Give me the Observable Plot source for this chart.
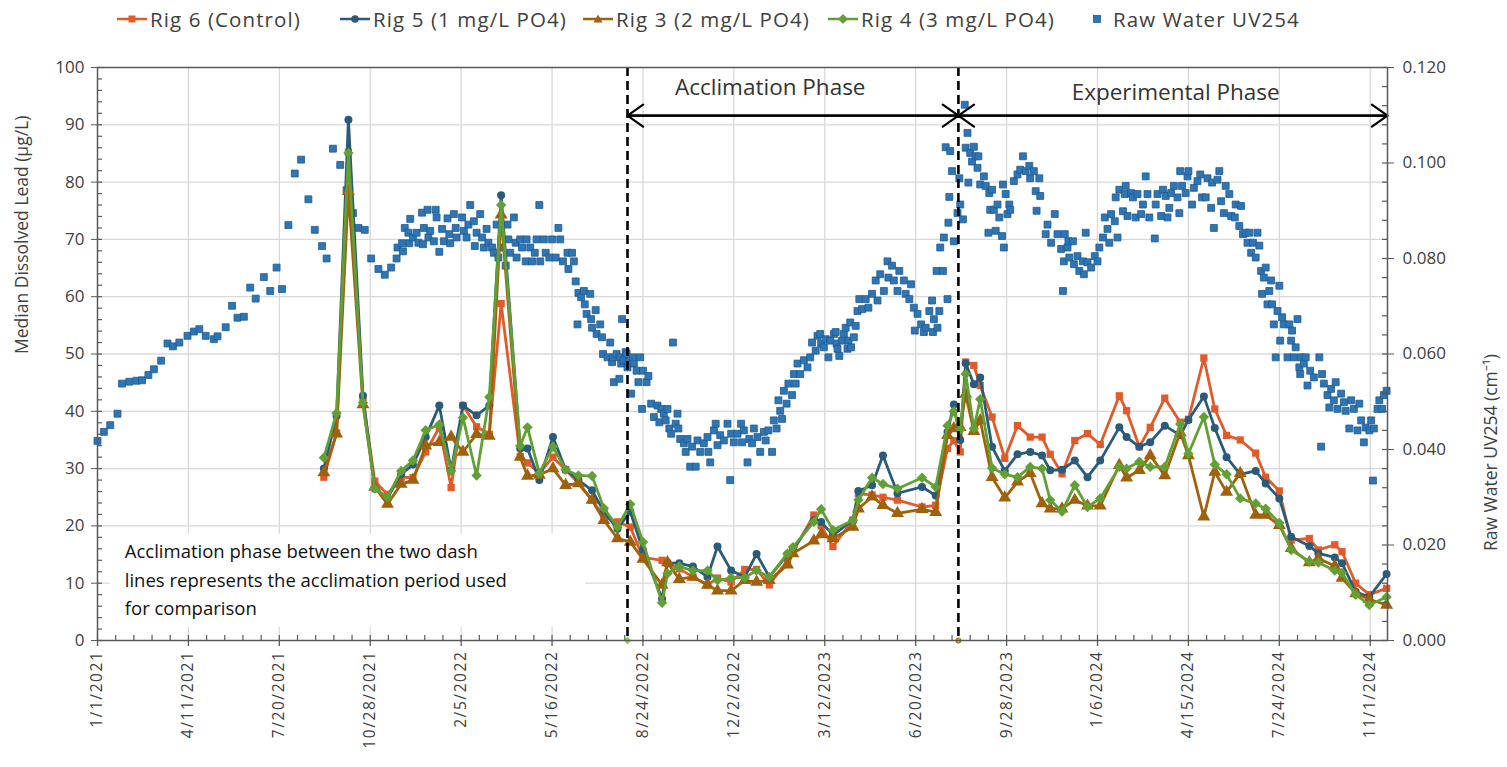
<!DOCTYPE html>
<html>
<head>
<meta charset="utf-8">
<script src="https://cdn.jsdelivr.net/npm/d3@7"></script>
<script src="https://cdn.jsdelivr.net/npm/@observablehq/plot@0.6"></script>
<style>
  body { margin: 0; background: #fff; font-family: "Open Sans", sans-serif; }
  #legend { position: relative; width: 1507px; height: 38px; }
  .item { position: absolute; top: 4px; height: 30px; display: flex; align-items: center; font-size: 20.5px; letter-spacing: 1.1px; color: #404040; white-space: nowrap; }
  .item svg { margin-right: 3px; }
  g[aria-label="x-axis tick label"] text { letter-spacing: 1.6px; }
</style>
</head>
<body>
<div id="legend"></div>
<div id="chart"></div>
<script>
// ---------- DATA ----------
const rigDates = ["2021-09-07","2021-09-21","2021-10-04","2021-10-20","2021-11-02","2021-11-16","2021-12-01","2021-12-14","2021-12-28","2022-01-12",
"2022-01-25","2022-02-07","2022-02-22","2022-03-08","2022-03-21","2022-04-11","2022-04-19","2022-05-02","2022-05-17","2022-05-31",
"2022-06-14","2022-06-29","2022-07-12","2022-07-27","2022-08-10","2022-08-24","2022-09-14","2022-09-20","2022-10-03","2022-10-18",
"2022-11-03","2022-11-14","2022-11-29","2022-12-14","2022-12-27","2023-01-10","2023-01-30","2023-02-05","2023-02-28","2023-03-08",
"2023-03-21","2023-04-12","2023-04-18","2023-05-03","2023-05-15","2023-05-31","2023-06-27","2023-07-12","2023-07-25","2023-08-01",
"2023-08-08","2023-08-14","2023-08-23","2023-08-30","2023-09-12","2023-09-26","2023-10-10","2023-10-24","2023-11-06","2023-11-15",
"2023-11-28","2023-12-12","2023-12-26","2024-01-09","2024-01-30","2024-02-07","2024-02-21","2024-03-04","2024-03-20","2024-04-06",
"2024-04-15","2024-05-02","2024-05-14","2024-05-27","2024-06-11","2024-06-28","2024-07-09","2024-07-24","2024-08-06","2024-08-26",
"2024-09-05","2024-09-23","2024-10-01","2024-10-16","2024-10-31","2024-11-19"];

const rig6 = [28.5,36.2,85.2,42.2,27.8,25.5,28.5,28.4,32.9,37.2, 26.7,41,37.3,36,58.8,32.1,31,29.2,32,29.8,
27.5,24.5,21.6,20.7,19.8,14.5,14,13.5,12.5,11.1, 9.7,10.9,10.2,12.4,12.4,9.7,14,15.5,21.9,20,
16.4,21,25.6,25.4,25,24.5,23.3,23.6,33.5,34.9, 32.9,48.6,48,44.5,39,31.8,37.5,35.5,35.5,32.5,
29.1,34.9,36.1,34.2,42.7,40.1,33.8,37.2,42.3,38.1, 38.6,49.3,40.4,35.8,35,32.7,28.5,26.1,17.5,17.8,
15.8,16.7,15.5,10,8,9.1];
const rig5 = [30,39.2,90.9,42.7,26.5,24.9,29,30.7,35.5,41, 29.7,41,39.3,41,77.7,33.5,33.5,28,35.5,29.8,
28,26.2,22.5,19.5,22.5,15.8,7.3,13.5,13.5,12.9, 11.1,16.4,12.2,11.1,15.1,11.1,15,16,21,20.7,
18.4,21,26.1,27.1,32.3,25.7,26.8,25.3,36.4,41.2, 35,48.4,44.7,45.9,33.8,29.6,32.5,32.9,32.3,29.7,
29.8,31.4,28.5,31.4,37.2,35.5,33.8,34.6,37.5,35.8, 38.5,42.6,37.1,32,29,29.6,27.4,24.8,18.1,16.5,
15.2,14.5,13.5,8.5,7.6,11.6];
const rig3 = [29.3,36.1,78.4,41.2,26.8,23.8,27.3,28,34,34.6, 35.5,32.9,36,35.7,74.3,32,28.7,28.9,30,27.1,
27.4,24.5,21,17.8,17.2,14.2,9.7,13.6,10.7,11.1, 9.7,8.7,8.7,10.5,10.2,10.5,13.2,15.2,17.4,18.5,
17.8,19.8,23,25.1,23.6,22.2,22.9,22.4,35.8,37, 37.2,43,36.5,38.4,28.5,24.9,27.7,29.2,23.9,23,
23,24.5,23.5,23.5,30.6,28.4,29.7,32.3,28.8,36.3, 32.3,21.6,29.4,25.9,29.2,21.9,21.9,20.1,16.1,13.6,
14.3,13,10.9,8.2,7.2,6.2];
const rig4 = [31.9,39.7,85.1,41.5,26.5,25,29.6,31.4,36.7,37.7, 29.6,38.9,28.8,42.5,76,34,37.2,29.2,33.8,29.8,
28.8,28.7,23.1,19.8,23.8,17.2,6.6,11.7,12.9,12.2, 12.2,10.5,10.9,11,12.2,11.1,15.2,16.3,20.7,22.9,
19.3,21,24.5,28.4,27.3,26.5,28.4,26.8,37.5,40, 36.8,46.5,37,42.1,30.1,29,28.5,30.3,30,24.5,
22.5,27.1,23.3,24.8,30.3,30,31.2,30.3,30.3,37.8, 32.6,39,30.7,29,24.8,23.9,23,20.5,15.8,13.8,
13.6,12.2,11.8,8,6.2,7.6];

// Raw water UV254 (cm-1): [date, value]
const uv2021 = [["2021-01-01",0.0418],["2021-01-08",0.0437],["2021-01-15",0.0451],["2021-01-23",0.0475],["2021-01-28",0.0538],
["2021-02-05",0.0542],["2021-02-13",0.0544],["2021-02-19",0.0545],["2021-02-26",0.0556],["2021-03-04",0.0568],["2021-03-12",0.0586],
["2021-03-19",0.0622],["2021-03-25",0.0616],["2021-04-01",0.0624],["2021-04-10",0.0638],["2021-04-17",0.0647],["2021-04-23",0.0652],
["2021-04-30",0.0638],["2021-05-09",0.0631],["2021-05-13",0.0637],["2021-05-22",0.0656],["2021-05-29",0.0701],["2021-06-04",0.0676],
["2021-06-11",0.0678],["2021-06-18",0.0739],["2021-06-24",0.0716],["2021-07-03",0.0761],["2021-07-10",0.0732],["2021-07-17",0.0781],
["2021-07-23",0.0736],["2021-07-30",0.0870],["2021-08-06",0.0978],["2021-08-13",0.1007],["2021-08-21",0.0924],["2021-08-28",0.0860],
["2021-09-05",0.0826],["2021-09-10",0.0800],["2021-09-17",0.1030],["2021-09-25",0.0996],["2021-10-02",0.0943],["2021-10-09",0.0895],
["2021-10-15",0.0864],["2021-10-22",0.0860],["2021-10-29",0.0800],["2021-11-06",0.0778],["2021-11-13",0.0766],["2021-11-20",0.0781],
["2021-11-26",0.0800],["2021-11-27",0.0823],["2021-12-02",0.0832],["2021-12-03",0.0815],["2021-12-05",0.0864],["2021-12-09",0.0854],
["2021-12-10",0.0832],["2021-12-11",0.0883],["2021-12-14",0.0844],["2021-12-18",0.0854],["2021-12-20",0.0833],["2021-12-24",0.0896],
["2021-12-25",0.0830],["2021-12-26",0.0864],["2021-12-30",0.0902],["2021-12-31",0.0844]];
const uv2022 = [["2022-01-02",0.0858],["2022-01-06",0.0836],["2022-01-08",0.0902],["2022-01-09",0.0886],["2022-01-12",0.0814],
["2022-01-15",0.0862],["2022-01-17",0.0836],["2022-01-21",0.0884],["2022-01-23",0.0851],["2022-01-24",0.0832],["2022-01-28",0.0893],
["2022-01-30",0.0864],["2022-01-31",0.0844],["2022-02-06",0.0886],["2022-02-08",0.0858],["2022-02-11",0.0844],["2022-02-13",0.0871],
["2022-02-15",0.0912],["2022-02-19",0.0878],["2022-02-20",0.0826],["2022-02-22",0.0854],["2022-02-26",0.0893],["2022-02-28",0.0844],
["2022-03-02",0.0823],["2022-03-05",0.0862],["2022-03-07",0.0833],["2022-03-11",0.0823],["2022-03-13",0.0812],["2022-03-16",0.0871],
["2022-03-18",0.0802],["2022-03-22",0.0823],["2022-03-26",0.0785],["2022-03-28",0.0871],["2022-03-29",0.0840],["2022-03-31",0.0812],
["2022-04-04",0.0886],["2022-04-06",0.0833],["2022-04-07",0.0802],["2022-04-11",0.0840],["2022-04-13",0.0823],["2022-04-17",0.0794],
["2022-04-18",0.0840],["2022-04-22",0.0823],["2022-04-24",0.0794],["2022-04-27",0.0812],["2022-04-29",0.0840],["2022-05-02",0.0912],
["2022-05-03",0.0794],["2022-05-07",0.0840],["2022-05-09",0.0812],["2022-05-13",0.0802],["2022-05-16",0.0840],["2022-05-20",0.0802],
["2022-05-23",0.0864],["2022-05-25",0.0840],["2022-05-28",0.0794],["2022-06-02",0.0812],["2022-06-03",0.0778],["2022-06-07",0.0812],
["2022-06-09",0.0794],["2022-06-11",0.0752],["2022-06-13",0.0662],["2022-06-14",0.0728],["2022-06-17",0.0719],["2022-06-20",0.0732],
["2022-06-21",0.0704],["2022-06-23",0.0684],["2022-06-27",0.0726],["2022-06-28",0.0673],["2022-06-29",0.0655],["2022-07-03",0.0692],
["2022-07-04",0.0642],["2022-07-08",0.0662],["2022-07-10",0.0635],["2022-07-11",0.0600],["2022-07-16",0.0593],["2022-07-19",0.0624],
["2022-07-21",0.0583],["2022-07-22",0.0593],["2022-07-23",0.0541],["2022-07-26",0.0600],["2022-07-29",0.0548],["2022-07-30",0.0593],
["2022-07-31",0.0580],["2022-08-01",0.0673],["2022-08-03",0.0587],["2022-08-05",0.0604],["2022-08-06",0.0600],["2022-08-07",0.0572],
["2022-08-08",0.0583],["2022-08-11",0.0517],["2022-08-13",0.0593],["2022-08-14",0.0580],["2022-08-17",0.0565],["2022-08-19",0.0541],
["2022-08-21",0.0593],["2022-08-23",0.0485],["2022-08-24",0.0565],["2022-08-28",0.0541],["2022-08-30",0.0554],["2022-09-02",0.0496],
["2022-09-05",0.0468],["2022-09-09",0.0492],["2022-09-11",0.0457],["2022-09-13",0.0485],["2022-09-16",0.0475],["2022-09-18",0.0461],
["2022-09-20",0.0485],["2022-09-22",0.0444],["2022-09-24",0.0433],["2022-09-26",0.0624],["2022-09-29",0.0454],["2022-10-01",0.0475],
["2022-10-02",0.0444],["2022-10-04",0.0422],["2022-10-08",0.0413],["2022-10-10",0.0395],["2022-10-12",0.0422],["2022-10-15",0.0364],
["2022-10-17",0.0406],["2022-10-21",0.0364],["2022-10-23",0.0419],["2022-10-26",0.0395],["2022-10-30",0.0413],["2022-11-03",0.0426],
["2022-11-04",0.0395],["2022-11-06",0.0373],["2022-11-10",0.0440],["2022-11-12",0.0454],["2022-11-14",0.0409],["2022-11-17",0.0430],
["2022-11-21",0.0419],["2022-11-25",0.0454],["2022-11-28",0.0336],["2022-11-29",0.0433],["2022-12-02",0.0415],["2022-12-06",0.0433],
["2022-12-10",0.0454],["2022-12-11",0.0415],["2022-12-13",0.0440],["2022-12-17",0.0373],["2022-12-19",0.0422],["2022-12-22",0.0413],
["2022-12-24",0.0444],["2022-12-28",0.0426],["2022-12-31",0.0395]];
const uv2023 = [["2023-01-04",0.0437],["2023-01-06",0.0419],["2023-01-09",0.0440],["2023-01-13",0.0395],["2023-01-15",0.0461],
["2023-01-18",0.0444],["2023-01-20",0.0503],["2023-01-22",0.0481],["2023-01-24",0.0464],["2023-01-26",0.0523],["2023-01-29",0.0496],
["2023-01-31",0.0538],["2023-02-04",0.0514],["2023-02-06",0.0558],["2023-02-08",0.0538],["2023-02-10",0.0580],["2023-02-13",0.0558],
["2023-02-17",0.0587],["2023-02-21",0.0572],["2023-02-24",0.0593],["2023-02-26",0.0624],["2023-03-02",0.0607],["2023-03-04",0.0638],
["2023-03-07",0.0642],["2023-03-08",0.0622],["2023-03-11",0.0614],["2023-03-13",0.0631],["2023-03-16",0.0593],["2023-03-18",0.0628],
["2023-03-22",0.0642],["2023-03-24",0.0646],["2023-03-25",0.0622],["2023-03-26",0.0611],["2023-03-28",0.0596],["2023-03-31",0.0628],
["2023-04-02",0.0642],["2023-04-04",0.0655],["2023-04-06",0.0611],["2023-04-07",0.0628],["2023-04-09",0.0666],["2023-04-10",0.0614],
["2023-04-13",0.0635],["2023-04-15",0.0659],["2023-04-17",0.0690],["2023-04-19",0.0715],["2023-04-22",0.0694],["2023-04-26",0.0715],
["2023-04-29",0.0697],["2023-05-03",0.0726],["2023-05-07",0.0754],["2023-05-09",0.0712],["2023-05-12",0.0767],["2023-05-16",0.0732],
["2023-05-20",0.0794],["2023-05-21",0.0760],["2023-05-25",0.0785],["2023-05-27",0.0754],["2023-05-31",0.0732],["2023-06-02",0.0774],
["2023-06-07",0.0754],["2023-06-09",0.0726],["2023-06-13",0.0715],["2023-06-15",0.0746],["2023-06-18",0.0697],["2023-06-19",0.0649],
["2023-06-22",0.0684],["2023-06-26",0.0662],["2023-06-29",0.0646],["2023-07-01",0.0655],["2023-07-05",0.0690],["2023-07-08",0.0712],
["2023-07-09",0.0646],["2023-07-10",0.0673],["2023-07-13",0.0774],["2023-07-14",0.0655],["2023-07-16",0.0690],["2023-07-17",0.0823],
["2023-07-20",0.0774],["2023-07-21",0.0844],["2023-07-23",0.1033],["2023-07-25",0.0715],["2023-07-26",0.0875],["2023-07-27",0.0929],
["2023-07-28",0.1025],["2023-07-30",0.0983],["2023-08-01",0.0836],["2023-08-05",0.0895],["2023-08-07",0.0968],["2023-08-08",0.0913],
["2023-08-11",0.0882],["2023-08-13",0.1122],["2023-08-14",0.1032],["2023-08-16",0.1063],["2023-08-17",0.0959],["2023-08-19",0.1021],
["2023-08-21",0.1003],["2023-08-23",0.1034],["2023-08-25",0.1014],["2023-08-27",0.0990],["2023-08-28",0.1014],["2023-08-30",0.0955],
["2023-09-03",0.0972],["2023-09-05",0.0952],["2023-09-08",0.0854],["2023-09-09",0.0937],["2023-09-10",0.0902],["2023-09-12",0.0944],
["2023-09-14",0.0902],["2023-09-16",0.0858],["2023-09-18",0.0913],["2023-09-20",0.0886],["2023-09-23",0.0847],["2023-09-24",0.0955],
["2023-09-25",0.0823],["2023-09-27",0.0935],["2023-09-29",0.0893],["2023-10-01",0.0913],["2023-10-02",0.0902],["2023-10-06",0.0962],
["2023-10-10",0.0976],["2023-10-13",0.0986],["2023-10-16",0.1014],["2023-10-19",0.0983],["2023-10-23",0.0994],["2023-10-24",0.0968],
["2023-10-28",0.0983],["2023-10-30",0.0941],["2023-10-31",0.0900],["2023-11-03",0.0968],["2023-11-04",0.0931],["2023-11-10",0.0851],
["2023-11-12",0.0871],["2023-11-16",0.0833],["2023-11-20",0.0893],["2023-11-23",0.0851],["2023-11-27",0.0820],["2023-11-29",0.0732],
["2023-11-30",0.0794],["2023-12-01",0.0851],["2023-12-04",0.0823],["2023-12-05",0.0836],["2023-12-06",0.0802],["2023-12-10",0.0836],
["2023-12-11",0.0788],["2023-12-15",0.0805],["2023-12-17",0.0774],["2023-12-21",0.0794],["2023-12-22",0.0767],["2023-12-24",0.0854],
["2023-12-26",0.0792],["2023-12-30",0.0781]];
const uv2024 = [["2024-01-03",0.0805],["2024-01-06",0.0794],["2024-01-08",0.0823],["2024-01-12",0.0844],["2024-01-14",0.0886],
["2024-01-17",0.0862],["2024-01-19",0.0833],["2024-01-21",0.0893],["2024-01-25",0.0878],["2024-01-26",0.0928],["2024-01-28",0.0844],
["2024-01-30",0.0944],["2024-02-03",0.0899],["2024-02-05",0.0935],["2024-02-06",0.0952],["2024-02-08",0.0889],["2024-02-12",0.0937],
["2024-02-14",0.0928],["2024-02-17",0.0886],["2024-02-19",0.0935],["2024-02-23",0.0893],["2024-02-25",0.0913],["2024-02-28",0.0972],
["2024-03-01",0.0935],["2024-03-03",0.0886],["2024-03-09",0.0842],["2024-03-10",0.0913],["2024-03-12",0.0935],["2024-03-16",0.0889],
["2024-03-18",0.0944],["2024-03-21",0.0931],["2024-03-23",0.0886],["2024-03-25",0.0906],["2024-03-27",0.0937],["2024-03-30",0.0952],
["2024-04-03",0.0928],["2024-04-05",0.0895],["2024-04-06",0.0983],["2024-04-08",0.0952],["2024-04-12",0.0937],["2024-04-14",0.0972],
["2024-04-15",0.0983],["2024-04-19",0.0913],["2024-04-21",0.0948],["2024-04-25",0.0962],["2024-04-28",0.0976],["2024-04-30",0.0928],
["2024-05-04",0.0928],["2024-05-06",0.0968],["2024-05-10",0.0906],["2024-05-11",0.0959],["2024-05-13",0.0864],["2024-05-17",0.0965],
["2024-05-19",0.0983],["2024-05-21",0.0920],["2024-05-24",0.0895],["2024-05-26",0.0952],["2024-05-30",0.0935],["2024-06-01",0.0889],
["2024-06-05",0.0886],["2024-06-06",0.0913],["2024-06-10",0.0868],["2024-06-12",0.0910],["2024-06-14",0.0851],["2024-06-17",0.0854],
["2024-06-19",0.0833],["2024-06-21",0.0854],["2024-06-23",0.0812],["2024-06-25",0.0833],["2024-06-28",0.0802],["2024-06-30",0.0854],
["2024-07-02",0.0827],["2024-07-04",0.0774],["2024-07-05",0.0726],["2024-07-07",0.0760],["2024-07-09",0.0781],["2024-07-11",0.0704],
["2024-07-13",0.0732],["2024-07-15",0.0754],["2024-07-16",0.0704],["2024-07-18",0.0662],["2024-07-20",0.0593],["2024-07-22",0.0690],
["2024-07-24",0.0743],["2024-07-25",0.0628],["2024-07-27",0.0677],["2024-07-29",0.0662],["2024-08-02",0.0593],["2024-08-04",0.0662],
["2024-08-06",0.0628],["2024-08-07",0.0649],["2024-08-09",0.0593],["2024-08-11",0.0614],["2024-08-13",0.0673],["2024-08-15",0.0572],
["2024-08-16",0.0558],["2024-08-17",0.0593],["2024-08-20",0.0580],["2024-08-22",0.0593],["2024-08-24",0.0534],["2024-08-27",0.0565],
["2024-08-31",0.0551],["2024-09-06",0.0593],["2024-09-08",0.0406],["2024-09-09",0.0558],["2024-09-11",0.0538],["2024-09-15",0.0514],
["2024-09-17",0.0488],["2024-09-19",0.0527],["2024-09-22",0.0503],["2024-09-24",0.0541],["2024-09-26",0.0485],["2024-09-30",0.0517],
["2024-10-03",0.0499],["2024-10-05",0.0481],["2024-10-09",0.0444],["2024-10-11",0.0503],["2024-10-14",0.0485],["2024-10-18",0.0440],
["2024-10-20",0.0496],["2024-10-22",0.0461],["2024-10-25",0.0415],["2024-10-27",0.0446],["2024-10-31",0.0440],["2024-11-02",0.0461],
["2024-11-04",0.0335],["2024-11-05",0.0444],["2024-11-09",0.0485],["2024-11-11",0.0503],["2024-11-14",0.0485],["2024-11-16",0.0514],
["2024-11-19",0.0523]];

const xTickLabels = ["1/1/2021","4/11/2021","7/20/2021","10/28/2021","2/5/2022","5/16/2022","8/24/2022","12/2/2022",
  "3/12/2023","6/20/2023","9/28/2023","1/6/2024","4/15/2024","7/24/2024","11/1/2024"];
const leftTicks = [0,10,20,30,40,50,60,70,80,90,100];
const rightTicks = [0,0.02,0.04,0.06,0.08,0.10,0.12];
const leftMax = 100, rightMax = 0.12;
const xStart = "2021-01-01", xEnd = "2024-11-20";

const phaseDates = ["2022-08-07","2023-08-06"];
const phaseEnds = ["2022-08-07","2023-08-06","2024-11-20"];
const phaseLabels = ["Acclimation Phase","Experimental Phase"];
const phaseLabelDates = ["2023-01-11","2024-04-01"];
const phaseLabelY = [96.4, 95.6];
const noteLines = ["Acclimation phase between the two dash","lines represents the acclimation period used","for comparison"];
const noteY = [15.4, 10.4, 5.4];

// ---------- SETUP ----------
const parse = s => new Date(s + "T00:00:00Z");
const parseMDY = s => { const [m,d,y] = s.split("/").map(Number); return new Date(Date.UTC(y, m-1, d)); };
const k = rightMax / leftMax; // UV units per left-axis unit
const x0 = parse(xStart), x1 = parse(xEnd);

const series = [
  {name:"Rig 6 (Control)", values: rig6, color:"#E35A2A", symbol:"square", r:4.1},
  {name:"Rig 5 (1 mg/L PO4)", values: rig5, color:"#2A5B7A", symbol:"circle", r:4.0},
  {name:"Rig 3 (2 mg/L PO4)", values: rig3, color:"#A0600C", symbol:"triangle", r:4.8},
  {name:"Rig 4 (3 mg/L PO4)", values: rig4, color:"#62A036", symbol:"diamond2", r:4.7}
];
const rows = s => rigDates.map((d,i) => ({date: parse(d), value: s.values[i]}));
const uvRows = [...uv2021, ...uv2022, ...uv2023, ...uv2024].map(([d,v]) => ({date: parse(d), uv: v}));
const UVFILL = "#2E75B6", UVSTROKE = "#1F5A8E";

// ---------- LEGEND ----------
const legend = document.getElementById("legend");
const legendLeft = [117, 340, 583, 828, 1087];
series.forEach((s, i) => {
  const el = document.createElement("div");
  el.className = "item"; el.style.left = legendLeft[i] + "px";
  let mk = "";
  if (s.symbol === "square") mk = `<rect x="11.5" y="6.5" width="7" height="7" fill="${s.color}"/>`;
  if (s.symbol === "circle") mk = `<circle cx="15" cy="10" r="3.8" fill="${s.color}"/>`;
  if (s.symbol === "triangle") mk = `<path d="M15,5.5L19.5,13.5L10.5,13.5Z" fill="${s.color}"/>`;
  if (s.symbol === "diamond2") mk = `<path d="M15,5L20,10L15,15L10,10Z" fill="${s.color}"/>`;
  el.innerHTML = `<svg width="30" height="20"><line x1="0" y1="10" x2="30" y2="10" stroke="${s.color}" stroke-width="2.5"/>${mk}</svg><span>${s.name}</span>`;
  legend.appendChild(el);
});
{
  const el = document.createElement("div");
  el.className = "item"; el.style.left = legendLeft[4] + "px";
  el.innerHTML = `<svg width="20" height="20" style="margin-right:6px"><rect x="6.5" y="6.5" width="7" height="7" fill="${UVFILL}" stroke="${UVSTROKE}" stroke-width="0.8"/></svg><span>Raw Water UV254</span>`;
  legend.appendChild(el);
}

// ---------- CHART ----------
const W = 1507, H = 729;
const mTop = 29, mBottom = 127, mLeft = 97, mRight = 120;
const plotH = H - mTop - mBottom, plotW = W - mLeft - mRight;

const xMajor = xTickLabels.map(parseMDY);
const xMinor = d3.range(0, Math.round((x1 - x0) / 864e5) + 1, 20).map(n => d3.utcDay.offset(x0, n));
const leftMinor = d3.range(0, 100.01, 2);
const rightMinor = d3.range(0, rightMax + 1e-9, 0.004).map(v => v / k);
const fmtDate = d => `${d.getUTCMonth()+1}/${d.getUTCDate()}/${d.getUTCFullYear()}`;
const AX = "#595959";

const marks = [
  Plot.ruleY(leftTicks.filter(t => t > 0 && t < 100), {stroke: "#d9d9d9", strokeWidth: 1.3}),
  Plot.ruleX(xMajor.slice(1), {stroke: "#d9d9d9", strokeWidth: 1.3}),
  Plot.rect([0], {x1: () => parse("2021-01-15"), x2: () => parse("2022-06-22"), y1: 2.3, y2: 18.6, fill: "white"}),
  Plot.dot(uvRows, {x: "date", y: d => d.uv / k, symbol: "square", r: 3.9, fill: UVFILL, stroke: UVSTROKE, strokeWidth: 0.8})
];
series.forEach(s => {
  const data = rows(s);
  marks.push(Plot.line(data, {x: "date", y: "value", stroke: s.color, strokeWidth: 2.8}));
  marks.push(Plot.dot(data, {x: "date", y: "value", symbol: s.symbol, r: s.r, fill: s.color, stroke: null}));
});
marks.push(
  Plot.ruleX(phaseDates.map(parse), {stroke: "black", strokeWidth: 2.6, strokeDasharray: "9,5"}),
  Plot.dot([phaseDates[0]], {x: d => parse(d), y: 0, symbol: "diamond2", r: 3.5, fill: "#92D050"}),
  Plot.dot([phaseDates[1]], {x: d => parse(d), y: 0, symbol: "circle", r: 2.6, fill: "#F0A030", stroke: "#7F5000", strokeWidth: 0.8}),
  Plot.arrow([0,1], {x1: i => parse(phaseEnds[i]), x2: i => parse(phaseEnds[i+1]), y1: 91.6, y2: 91.6, stroke: "black", strokeWidth: 2.2, headLength: 13, headAngle: 70}),
  Plot.arrow([0,1], {x1: i => parse(phaseEnds[i+1]), x2: i => parse(phaseEnds[i]), y1: 91.6, y2: 91.6, stroke: "black", strokeWidth: 2.2, headLength: 13, headAngle: 70}),
  Plot.text(phaseLabels, {x: (d, i) => parse(phaseLabelDates[i]), y: (d, i) => phaseLabelY[i], text: d => d, fontSize: 22.5, fill: "#333", textAnchor: "middle"}),
  Plot.text(noteLines, {x: () => parse("2021-01-31"), y: (d, i) => noteY[i], text: d => d, textAnchor: "start", fontSize: 18.5, fill: "#111"}),
  Plot.frame({stroke: AX, strokeWidth: 1.5}),
  Plot.ruleX(xMinor, {insetTop: plotH - 5, stroke: AX, strokeWidth: 1.2}),
  Plot.ruleX(xMajor, {insetTop: plotH, insetBottom: -6, stroke: AX, strokeWidth: 1.3}),
  Plot.ruleY(leftMinor, {insetRight: plotW - 5, stroke: AX, strokeWidth: 1.2}),
  Plot.ruleY(rightMinor, {insetLeft: plotW - 5, stroke: AX, strokeWidth: 1.2}),
  Plot.axisY(leftTicks, {anchor: "left", tickSize: 6, tickPadding: 7, fontSize: 17, stroke: AX, color: "#404040", tickFormat: d => d, label: null}),
  Plot.axisY(rightTicks.map(v => v / k), {anchor: "right", tickSize: 6, tickPadding: 9, fontSize: 17, stroke: AX, color: "#404040", tickFormat: d => (d * k).toFixed(3), label: null}),
  Plot.axisX(xMajor, {anchor: "bottom", tickSize: 0, tickPadding: 10, tickRotate: -90, fontSize: 15.5, color: "#404040", tickFormat: fmtDate, label: null}),
  Plot.text(["Median Dissolved Lead (µg/L)"], {frameAnchor: "left", rotate: -90, dx: -75, fontSize: 17.5, fill: "#404040"}),
  Plot.text(["Raw Water UV254 (cm⁻¹)"], {frameAnchor: "right", rotate: -90, dx: 104, fontSize: 17.5, fill: "#404040"})
);

const chart = Plot.plot({
  width: W, height: H,
  marginTop: mTop, marginBottom: mBottom, marginLeft: mLeft, marginRight: mRight,
  x: {type: "utc", domain: [x0, x1]},
  y: {domain: [0, leftMax]},
  style: {fontFamily: "Open Sans, sans-serif", background: "white", overflow: "visible"},
  marks
});
document.getElementById("chart").appendChild(chart);
</script>
</body>
</html>
